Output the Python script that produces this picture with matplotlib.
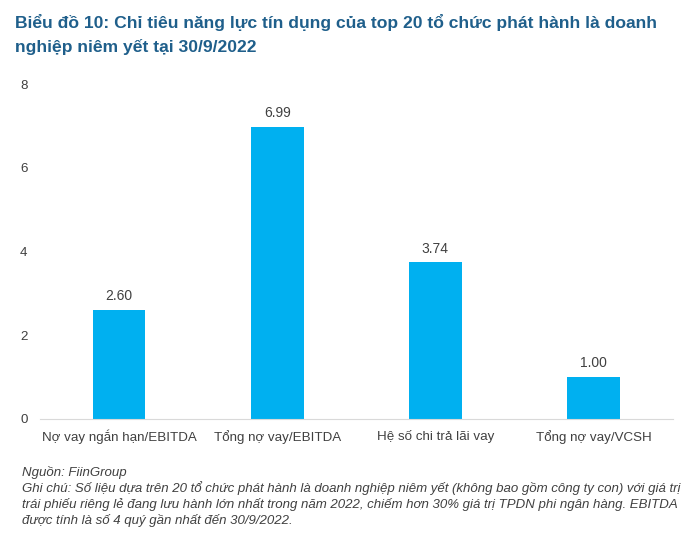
import matplotlib
matplotlib.use("Agg")
import matplotlib.pyplot as plt

plt.rcParams['font.family'] = ['Liberation Sans', 'DejaVu Sans']

categories = ['Nợ vay ngắn hạn/EBITDA', 'Tổng nợ vay/EBITDA',
              'Hệ số chi trả lãi vay', 'Tổng nợ vay/VCSH']
values = [2.60, 6.99, 3.74, 1.00]
yticks = [0, 2, 4, 6, 8]

title = ('Biểu đồ 10: Chỉ tiêu năng lực tín dụng của top 20 tổ chức phát hành là doanh\n'
         'nghiệp niêm yết tại 30/9/2022')
source = 'Nguồn: FiinGroup'
note = ('Ghi chú: Số liệu dựa trên 20 tổ chức phát hành là doanh nghiệp niêm yết (không bao gồm công ty con) với giá trị\n'
        'trái phiếu riêng lẻ đang lưu hành lớn nhất trong năm 2022, chiếm hơn 30% giá trị TPDN phi ngân hàng. EBITDA\n'
        'được tính là số 4 quý gần nhất đến 30/9/2022.')

fig = plt.figure(figsize=(7, 5.34), dpi=100)
ax = fig.add_axes([0.057, 0.216, 0.904, 0.626])

x = range(len(categories))
bars = ax.bar(x, values, width=0.335, color='#00B0F0')
for b, v in zip(bars, values):
    ax.text(b.get_x() + b.get_width() / 2, v + 0.16, f'{v:.2f}',
            ha='center', va='bottom', fontsize=10, color='#404040')

ax.set_xlim(-0.5, 3.5)
ax.set_ylim(0, 8)
ax.set_yticks(yticks)
ax.set_xticks(list(x))
ax.set_xticklabels(categories)
ax.tick_params(axis='both', length=0, labelsize=9.6, labelcolor='#404040')
ax.tick_params(axis='x', pad=8)
ax.tick_params(axis='y', pad=9)
for s in ['top', 'right', 'left']:
    ax.spines[s].set_visible(False)
ax.spines['bottom'].set_color('#D9D9D9')

fig.text(0.022, 0.973, title, ha='left', va='top', fontsize=12.6,
         fontweight='bold', color='#1F5F8B', linespacing=1.58)
fig.text(0.031, 0.116, source, ha='left', va='center', fontsize=9.5,
         style='italic', color='#404040')
fig.text(0.031, 0.099, note, ha='left', va='top', fontsize=9.5,
         style='italic', color='#404040', linespacing=1.3)

fig.savefig('out.png', dpi=100)
